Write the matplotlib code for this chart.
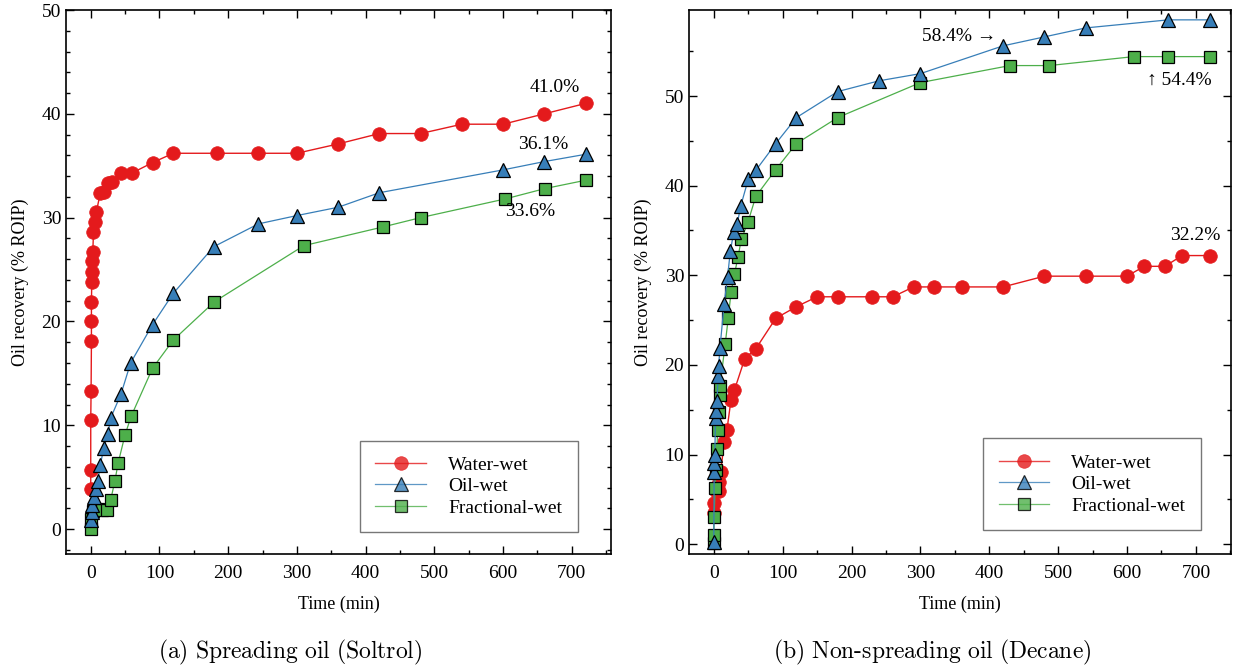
import matplotlib
matplotlib.use("Agg")
import matplotlib.pyplot as plt
from matplotlib.ticker import MultipleLocator

plt.rcParams['font.family'] = ['Liberation Serif', 'DejaVu Serif']
plt.rcParams['mathtext.fontset'] = 'cm'

# ---------------- data: (a) Spreading oil (Soltrol) ----------------
a_ww_t = [0, 0, 0, 0.5, 1, 1, 1, 1.5, 2, 2.5, 3, 4, 6, 8, 14, 20, 25, 31, 44, 60,
          90, 120, 184, 244, 300, 360, 420, 480, 540, 600, 660, 720]
a_ww_v = [3.9, 5.7, 10.5, 13.3, 18.1, 20.0, 21.9, 23.8, 24.8, 25.8, 26.7, 28.6, 29.6, 30.5,
          32.4, 32.5, 33.3, 33.4, 34.3, 34.3, 35.3, 36.2, 36.2, 36.2, 36.2, 37.1, 38.1,
          38.1, 39.0, 39.0, 40.0, 41.0]
a_ow_t = [0, 1.5, 2.5, 5, 8, 10, 14, 19, 25, 29, 44, 58, 90, 120, 179, 244, 300, 360,
          420, 600, 660, 720]
a_ow_v = [0.9, 1.6, 2.3, 3.1, 3.9, 4.6, 6.2, 7.8, 9.2, 10.7, 13.0, 16.0, 19.7, 22.7,
          27.2, 29.4, 30.2, 31.0, 32.4, 34.6, 35.4, 36.1]
a_fw_t = [0, 1, 3, 10, 17, 24, 29, 35, 40, 50, 59, 90, 120, 180, 310, 425, 480, 603,
          661, 720]
a_fw_v = [0.0, 1.0, 1.7, 1.9, 1.8, 1.8, 2.8, 4.6, 6.4, 9.1, 10.9, 15.5, 18.2, 21.9,
          27.3, 29.1, 30.0, 31.8, 32.8, 33.6]

# ---------------- data: (b) Non-spreading oil (Decane) ----------------
b_ww_t = [0, 0, 2.5, 7, 8, 10, 15, 19, 25, 30, 45, 61, 90, 120, 150, 180, 230, 260,
          290, 320, 360, 420, 480, 540, 600, 625, 655, 680, 720]
b_ww_v = [3.5, 4.6, 5.9, 5.9, 6.9, 8.0, 11.4, 12.7, 16.1, 17.2, 20.7, 21.8, 25.2, 26.5,
          27.6, 27.6, 27.6, 27.6, 28.7, 28.7, 28.7, 28.7, 29.9, 29.9, 29.9, 31.0, 31.0,
          32.2, 32.2]
b_ow_t = [0, 0.5, 1, 1.5, 2.5, 3.5, 4.5, 6.5, 7, 9, 15, 20, 24, 29, 34, 39, 50, 61,
          90, 120, 180, 240, 300, 420, 480, 540, 660, 720]
b_ow_v = [0.2, 8.0, 9.0, 10.0, 14.1, 14.9, 16.0, 18.8, 19.9, 21.9, 26.8, 29.8, 32.7,
          34.8, 35.7, 37.7, 40.7, 41.7, 44.7, 47.6, 50.5, 51.7, 52.5, 55.6, 56.6, 57.6,
          58.5, 58.5]
b_fw_t = [0, 0, 0.5, 2, 3, 4.5, 5.5, 7.5, 8.5, 9, 16.5, 21, 25, 30, 35, 40, 49.5, 61,
          90, 120, 180, 300, 430, 487, 610, 660, 720]
b_fw_v = [0.1, 1.0, 3.0, 6.3, 8.3, 10.6, 12.7, 14.7, 16.6, 17.6, 22.3, 25.2, 28.1,
          30.1, 32.0, 34.0, 35.9, 38.8, 41.8, 44.7, 47.6, 51.5, 53.4, 53.4, 54.4, 54.4,
          54.4]

labels = ['Water-wet', 'Oil-wet', 'Fractional-wet']
captions = [r'$\mathrm{(a)\ Spreading\ oil\ (Soltrol)}$',
            r'$\mathrm{(b)\ Non\text{-}spreading\ oil\ (Decane)}$']

RED, BLUE, GREEN = '#e41a1c', '#377eb8', '#4daf4a'

fig = plt.figure(figsize=(12.34, 6.68), dpi=100)
axA = fig.add_axes([66/1234, 1-554/668, 545/1234, 544/668])
axB = fig.add_axes([689/1234, 1-554/668, 542/1234, 544/668])


def draw(ax, ww, ow, fw):
    ax.plot(ww[0], ww[1], '-', color=RED, lw=1.0, marker='o', ms=9.8,
            mfc=RED, mec=RED, mew=0.5, label=labels[0], zorder=3)
    ax.plot(ow[0], ow[1], '-', color=BLUE, lw=0.9, marker='^', ms=9.5,
            mfc=BLUE, mec='black', mew=0.9, label=labels[1], zorder=4)
    ax.plot(fw[0], fw[1], '-', color=GREEN, lw=0.9, marker='s', ms=8.5,
            mfc=GREEN, mec='black', mew=0.9, label=labels[2], zorder=3)
    ax.xaxis.set_major_locator(MultipleLocator(100))
    ax.xaxis.set_minor_locator(MultipleLocator(50))
    ax.yaxis.set_major_locator(MultipleLocator(10))
    ax.tick_params(which='both', direction='in', top=True, right=True,
                   labelsize=14, width=1.0)
    ax.tick_params(which='major', length=6)
    ax.tick_params(which='minor', length=3)
    ax.tick_params(axis='x', pad=8)
    for s in ax.spines.values():
        s.set_linewidth(1.2)
    ax.set_xlabel('Time (min)', fontsize=13, labelpad=10)
    ax.set_ylabel('Oil recovery (% ROIP)', fontsize=13, labelpad=9)


draw(axA, (a_ww_t, a_ww_v), (a_ow_t, a_ow_v), (a_fw_t, a_fw_v))
axA.set_xlim(-36, 757)
axA.set_ylim(-2.4, 50)
axA.yaxis.set_minor_locator(MultipleLocator(2))

draw(axB, (b_ww_t, b_ww_v), (b_ow_t, b_ow_v), (b_fw_t, b_fw_v))
axB.set_xlim(-36, 751)
axB.set_ylim(-1.1, 59.6)
axB.yaxis.set_minor_locator(MultipleLocator(5))

for ax, anchor in ((axA, (0.539, 0.040)), (axB, (0.5424, 0.044))):
    leg = ax.legend(loc='lower left', bbox_to_anchor=anchor, borderaxespad=0,
                    fontsize=14, frameon=True, fancybox=False, handlelength=2.6,
                    handletextpad=1.15, borderpad=0.8, labelspacing=0.2,
                    edgecolor='#555555')
    leg.get_frame().set_linewidth(1.0)
    for h in leg.get_lines():
        h.set_alpha(0.8)

# value annotations
axA.text(675, 42.5, '41.0%', ha='center', va='center', fontsize=14)
axA.text(658, 37.0, '36.1%', ha='center', va='center', fontsize=14)
axA.text(639, 30.6, '33.6%', ha='center', va='center', fontsize=14)
axB.text(411, 56.6, '58.4% \u2192', ha='right', va='center', fontsize=14)
axB.text(629, 51.8, '\u2191 54.4%', ha='left', va='center', fontsize=14)
axB.text(699, 34.4, '32.2%', ha='center', va='center', fontsize=14)

fig.text(290/1234, 1-652/668, captions[0], ha='center', va='center', fontsize=17)
fig.text(932/1234, 1-652/668, captions[1], ha='center', va='center', fontsize=17)

fig.savefig('out.png', dpi=100)
